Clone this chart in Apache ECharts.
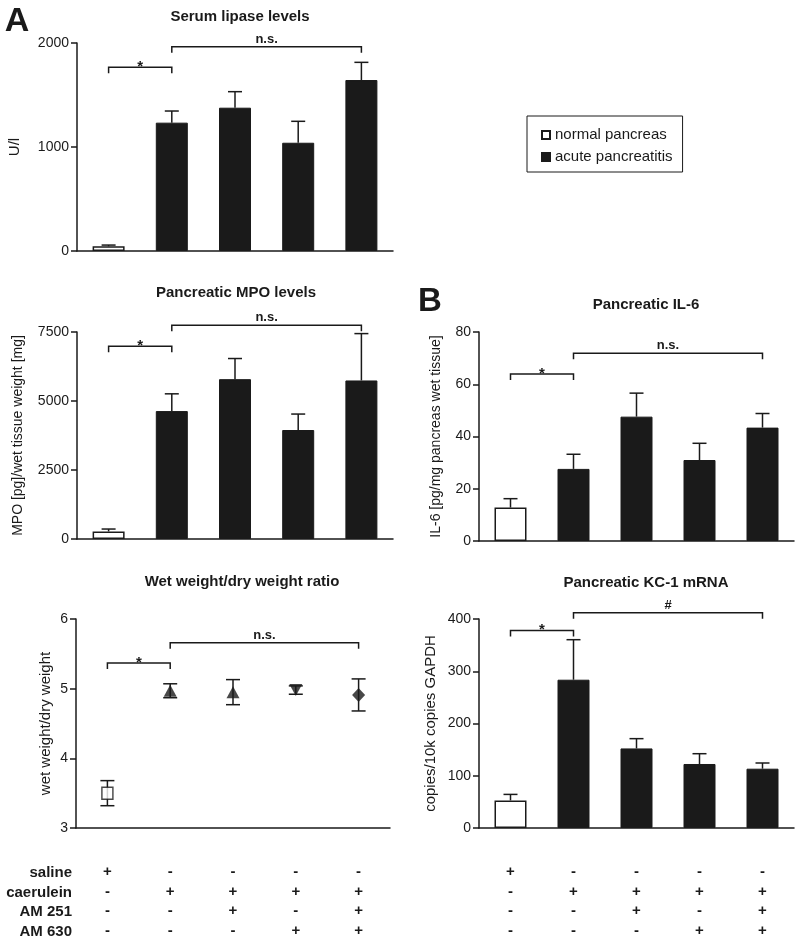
<!DOCTYPE html>
<html><head><meta charset="utf-8">
<script src="https://cdn.jsdelivr.net/npm/echarts@6/dist/echarts.min.js"></script>
<style>html,body{margin:0;padding:0;background:#fff}#c{width:800px;height:948px}</style>
</head><body><div id="c"></div>
<script>
// ---------- data ----------
const categories = ['saline', 'caerulein', 'caerulein + AM 251', 'caerulein + AM 630', 'caerulein + AM 251 + AM 630'];
const rowLabels = ['saline', 'caerulein', 'AM 251', 'AM 630'];
const salineRow = ['+', '-', '-', '-', '-'];
const caeruleinRow = ['-', '+', '+', '+', '+'];
const am251Row = ['-', '-', '+', '-', '+'];
const am630Row = ['-', '-', '-', '+', '+'];

const lipaseMean = [45, 1234, 1378, 1041, 1644];
const lipaseErr = [12, 112, 154, 206, 170];
const lipaseTicks = [0, 1000, 2000];
const lipaseBrackets = [[0, 1, 1766, '*'], [1, 4, 1964, 'n.s.']];

const mpoMean = [275, 4635, 5791, 3949, 5744];
const mpoErr = [86, 625, 748, 578, 1698];
const mpoTicks = [0, 2500, 5000, 7500];
const mpoBrackets = [[0, 1, 6983, '*'], [1, 4, 7742, 'n.s.']];

const wetDryMean = [3.50, 4.97, 4.95, 4.98, 4.91];
const wetDryErr = [0.18, 0.10, 0.18, 0.06, 0.23];
const wetDryTicks = [3, 4, 5, 6];
const wetDryBrackets = [[0, 1, 5.37, '*'], [1, 4, 5.66, 'n.s.']];

const il6Mean = [12.8, 27.6, 47.6, 31.0, 43.4];
const il6Err = [3.4, 5.6, 9.0, 6.4, 5.4];
const il6Ticks = [0, 20, 40, 60, 80];
const il6Brackets = [[0, 1, 63.9, '*'], [1, 4, 71.9, 'n.s.']];

const kcMean = [52.8, 283.8, 152.3, 122.5, 113.5];
const kcErr = [11.5, 76.6, 18.7, 19.7, 10.9];
const kcTicks = [0, 100, 200, 300, 400];
const kcBrackets = [[0, 1, 378, '*'], [1, 4, 412, '#']];

const legendNames = ['normal pancreas', 'acute pancreatitis'];

// ---------- styles ----------
const INK = '#1a1a1a';
const FONT = 'Liberation Sans, Arial, sans-serif';
const markerShapes = ['rect', 'triangle', 'triangle', 'triangle', 'diamond'];
const markerRotate = [0, 0, 0, 180, 0];

const grids = [
  {left: 77, top: 43, width: 316, height: 208},
  {left: 77, top: 332, width: 316, height: 207},
  {left: 76, top: 619, width: 314, height: 209},
  {left: 479, top: 332, width: 315, height: 209},
  {left: 479, top: 619, width: 315, height: 209}
];

function tableLabel(v, i) {
  return [salineRow[i], caeruleinRow[i], am251Row[i], am630Row[i]].join('\n');
}

function xAxisFor(gi, showTable) {
  return {
    type: 'category', gridIndex: gi, data: categories,
    axisLine: {lineStyle: {color: INK, width: 1.5}},
    axisTick: {alignWithLabel: true, length: 6, lineStyle: {color: INK, width: 1.5}},
    axisLabel: showTable ? {
      show: true, interval: 0, formatter: tableLabel, margin: 34,
      fontSize: 15, fontWeight: 'bold', lineHeight: 19.7, color: INK, fontFamily: FONT
    } : {show: false}
  };
}

function yAxisFor(gi, ticks, name, gap, nameSize) {
  return {
    type: 'value', gridIndex: gi,
    min: ticks[0], max: ticks[ticks.length - 1], interval: ticks[1] - ticks[0],
    name: name, nameLocation: 'middle', nameGap: gap,
    nameTextStyle: {fontSize: nameSize, color: INK, fontFamily: FONT},
    axisLine: {show: true, lineStyle: {color: INK, width: 1.5}},
    axisTick: {show: true, length: 6, lineStyle: {color: INK, width: 1.5}},
    axisLabel: {fontSize: 14, color: INK, margin: 8, fontFamily: FONT, formatter: v => String(v)},
    splitLine: {show: false}
  };
}

function errRender(twoSided) {
  return function (params, api) {
    const i = api.value(0), m = api.value(1), e = api.value(2);
    const hi = api.coord([i, m + e]);
    const lo = api.coord([i, twoSided ? m - e : m]);
    const cw = 7;
    const st = {stroke: INK, lineWidth: 1.5};
    const ch = [
      {type: 'line', shape: {x1: hi[0], y1: hi[1], x2: lo[0], y2: lo[1]}, style: st},
      {type: 'line', shape: {x1: hi[0] - cw, y1: hi[1], x2: hi[0] + cw, y2: hi[1]}, style: st}
    ];
    if (twoSided) ch.push({type: 'line', shape: {x1: lo[0] - cw, y1: lo[1], x2: lo[0] + cw, y2: lo[1]}, style: st});
    return {type: 'group', children: ch};
  };
}

function bracketSeries(gi, brackets) {
  return {
    type: 'custom', xAxisIndex: gi, yAxisIndex: gi, silent: true, z: 5,
    encode: {x: [0, 1], y: 2},
    data: brackets.map(b => [b[0], b[1], b[2]]),
    renderItem: function (params, api) {
      const a = api.coord([api.value(0), api.value(2)]);
      const b = api.coord([api.value(1), api.value(2)]);
      const label = brackets[params.dataIndex][3];
      const dy = label === '*' ? 7 : -1;
      return {type: 'group', children: [
        {type: 'polyline', shape: {points: [[a[0], a[1] + 6], [a[0], a[1]], [b[0], b[1]], [b[0], b[1] + 6]]},
          style: {stroke: INK, lineWidth: 1.5, fill: null}},
        {type: 'text', x: (a[0] + b[0]) / 2, y: a[1] + dy,
          style: {text: label, align: 'center', verticalAlign: 'bottom', fill: INK,
            font: 'bold ' + (label === '*' ? 15 : 13) + 'px ' + FONT}}
      ]};
    }
  };
}

function barPanel(gi, mean, err, brackets) {
  return [
    {type: 'bar', name: legendNames[0], xAxisIndex: gi, yAxisIndex: gi, barWidth: 32, barGap: '-100%',
      data: mean.map((v, i) => i === 0 ? v : '-'),
      itemStyle: {color: '#ffffff', borderColor: INK, borderWidth: 1.5}},
    {type: 'bar', name: legendNames[1], xAxisIndex: gi, yAxisIndex: gi, barWidth: 32, barGap: '-100%',
      data: mean.map((v, i) => i === 0 ? '-' : v),
      itemStyle: {color: INK, borderColor: INK, borderWidth: 1}},
    {type: 'custom', xAxisIndex: gi, yAxisIndex: gi, z: 4, encode: {x: 0, y: 1},
      data: mean.map((v, i) => [i, v, err[i]]), renderItem: errRender(false)},
    bracketSeries(gi, brackets)
  ];
}

const series = [].concat(
  barPanel(0, lipaseMean, lipaseErr, lipaseBrackets),
  barPanel(1, mpoMean, mpoErr, mpoBrackets),
  [
    {type: 'custom', xAxisIndex: 2, yAxisIndex: 2, z: 3, encode: {x: 0, y: 1},
      data: wetDryMean.map((v, i) => [i, v, wetDryErr[i]]), renderItem: errRender(true)},
    {type: 'scatter', name: 'wet/dry', xAxisIndex: 2, yAxisIndex: 2, z: 6,
      data: wetDryMean.map((v, i) => ({
        value: [i, v], symbol: markerShapes[i], symbolRotate: markerRotate[i],
        symbolSize: i === 0 ? [11, 12] : (i === 4 ? [13, 14] : [13, 12]),
        itemStyle: i === 0 ? {color: '#fff', borderColor: INK, borderWidth: 1.5} : {color: INK}
      }))},
    bracketSeries(2, wetDryBrackets)
  ],
  barPanel(3, il6Mean, il6Err, il6Brackets),
  barPanel(4, kcMean, kcErr, kcBrackets)
);

const titles = [
  ['Serum lipase levels', 240, 17],
  ['Pancreatic MPO levels', 236, 293],
  ['Wet weight/dry weight ratio', 242, 582],
  ['Pancreatic IL-6', 646, 305],
  ['Pancreatic KC-1 mRNA', 646, 583]
];

const graphic = titles.map(t => ({
  type: 'text', x: t[1], y: t[2],
  style: {text: t[0], align: 'center', verticalAlign: 'middle', fill: INK, font: 'bold 15px ' + FONT}
})).concat([
  {type: 'text', x: 17, y: 22, style: {text: 'A', align: 'center', verticalAlign: 'middle', fill: INK, font: 'bold 34px ' + FONT}},
  {type: 'text', x: 430, y: 302, style: {text: 'B', align: 'center', verticalAlign: 'middle', fill: INK, font: 'bold 33px ' + FONT}},
  {type: 'text', x: 72, y: 863, style: {text: rowLabels.join('\n'), align: 'right', verticalAlign: 'top',
    lineHeight: 19.7, fill: INK, font: 'bold 15px ' + FONT}}
]);

const option = {
  animation: false,
  backgroundColor: '#fff',
  textStyle: {fontFamily: FONT},
  grid: grids,
  xAxis: [xAxisFor(0, false), xAxisFor(1, false), xAxisFor(2, true), xAxisFor(3, false), xAxisFor(4, true)],
  yAxis: [
    yAxisFor(0, lipaseTicks, 'U/l', 55, 15),
    yAxisFor(1, mpoTicks, 'MPO [pg]/wet tissue weight [mg]', 52, 14),
    yAxisFor(2, wetDryTicks, 'wet weight/dry weight', 23, 15),
    yAxisFor(3, il6Ticks, 'IL-6 [pg/mg pancreas wet tissue]', 36, 14),
    yAxisFor(4, kcTicks, 'copies/10k copies GAPDH', 41, 15)
  ],
  legend: {
    data: legendNames, orient: 'vertical', left: 527, top: 116,
    padding: [10, 10, 6, 14], itemWidth: 8, itemHeight: 8, itemGap: 4,
    borderColor: INK, borderWidth: 1, icon: 'rect',
    textStyle: {fontSize: 15, color: INK, lineHeight: 18, fontFamily: FONT}
  },
  graphic: graphic,
  series: series
};

const chart = echarts.init(document.getElementById('c'));
chart.setOption(option);
</script>
</body></html>
